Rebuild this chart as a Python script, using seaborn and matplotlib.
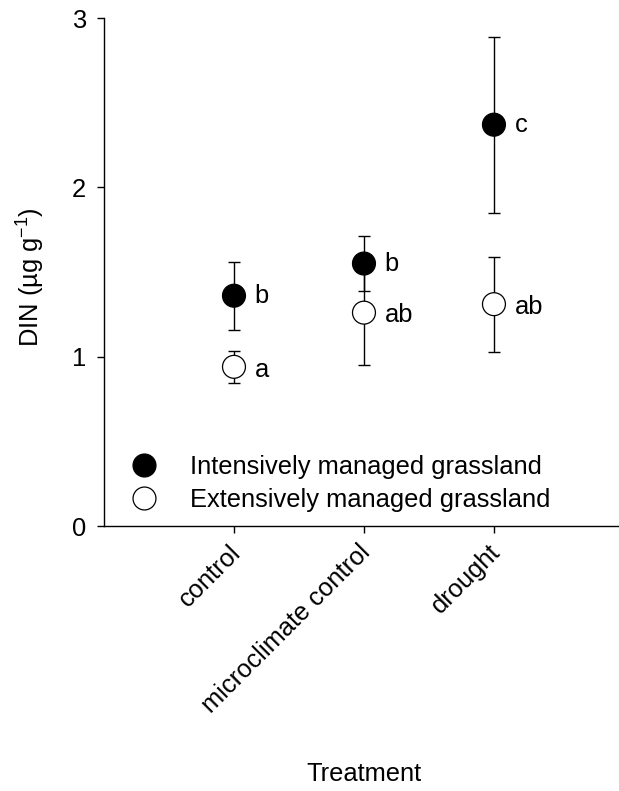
import numpy as np
import pandas as pd
import matplotlib
matplotlib.use("Agg")
import matplotlib.pyplot as plt
import matplotlib.transforms as mtransforms
from matplotlib.lines import Line2D
import seaborn as sns

# ---- data ----
treatments = ["control", "microclimate control", "drought"]
intensive_mean = [1.36, 1.55, 2.37]
intensive_err = [0.20, 0.16, 0.52]
extensive_mean = [0.94, 1.26, 1.31]
extensive_err = [0.093, 0.31, 0.28]
intensive_letters = ["b", "b", "c"]
extensive_letters = ["a", "ab", "ab"]
groups = ["Intensively managed grassland", "Extensively managed grassland"]
y_ticks = [0, 1, 2, 3]

df = pd.DataFrame({
    "Treatment": treatments * 2,
    "DIN": intensive_mean + extensive_mean,
    "err": intensive_err + extensive_err,
    "group": [groups[0]] * 3 + [groups[1]] * 3,
})

sns.set_style("ticks")
plt.rcParams["font.family"] = ["Liberation Sans", "DejaVu Sans"]
plt.rcParams.update({"text.color": "black", "axes.labelcolor": "black",
                     "xtick.color": "black", "ytick.color": "black",
                     "axes.edgecolor": "black"})
FS = 18.4

fig = plt.figure(figsize=(6.19, 7.91), dpi=100)
W, H = 619, 791
ax = fig.add_axes([104 / W, (H - 526) / H, (619 - 104) / W, 508 / H])

# error bars first (behind markers)
for g in groups:
    sub = df[df["group"] == g]
    ax.errorbar(sub["Treatment"], sub["DIN"], yerr=sub["err"], fmt="none",
                ecolor="black", elinewidth=1.0, capsize=4.5, capthick=1.0, zorder=2)

sns.scatterplot(data=df, x="Treatment", y="DIN", hue="group",
                palette={groups[0]: "black", groups[1]: "white"},
                edgecolor="black", linewidth=0.9, s=16.5 ** 2, legend=False,
                zorder=3, ax=ax)

# significance letters
for i, (m, l) in enumerate(zip(intensive_mean, intensive_letters)):
    ax.annotate(l, xy=(i, m), xytext=(15, 0), textcoords="offset points",
                ha="left", va="center", fontsize=FS)
for i, (m, l) in enumerate(zip(extensive_mean, extensive_letters)):
    ax.annotate(l, xy=(i, m), xytext=(15, -2), textcoords="offset points",
                ha="left", va="center", fontsize=FS)

ax.set_ylim(0, 3)
ax.set_xlim(-1, 2.962)
ax.tick_params(axis="both", direction="out", length=5, width=1.0, color="black")
ax.tick_params(axis="y", pad=8)
ax.tick_params(axis="x", pad=10)
ax.set_yticks(y_ticks)
ax.set_yticklabels([str(t) for t in y_ticks], fontsize=FS)
ax.set_xticks(range(len(treatments)))
ax.set_xticklabels(treatments, rotation=45, ha="right", va="center",
                   rotation_mode="anchor", fontsize=FS)
offset = mtransforms.ScaledTranslation(3 / 100, -2 / 100, fig.dpi_scale_trans)
for lbl in ax.get_xticklabels():
    lbl.set_transform(lbl.get_transform() + offset)
for s in ["left", "bottom"]:
    ax.spines[s].set_linewidth(1.0)
    ax.spines[s].set_color("black")
sns.despine(ax=ax)

ax.set_xlabel("Treatment", fontsize=FS)
ax.set_ylabel(r"DIN (µg g$^{\mathregular{-1}}$)", fontsize=FS)
ax.xaxis.set_label_coords(0.505, -0.465)
ax.yaxis.set_label_coords(-0.112, 0.49)

handles = [
    Line2D([], [], marker="o", linestyle="none", markersize=16.5,
           markerfacecolor="black", markeredgecolor="black", markeredgewidth=0.9),
    Line2D([], [], marker="o", linestyle="none", markersize=16.5,
           markerfacecolor="white", markeredgecolor="black", markeredgewidth=0.9),
]
ax.legend(handles, groups, loc="center left", bbox_to_anchor=(0.052, 0.084),
          frameon=False, fontsize=FS, handlelength=1.0, handletextpad=1.32,
          labelspacing=0.33, borderpad=0, borderaxespad=0)

fig.savefig("out.png", dpi=100)
